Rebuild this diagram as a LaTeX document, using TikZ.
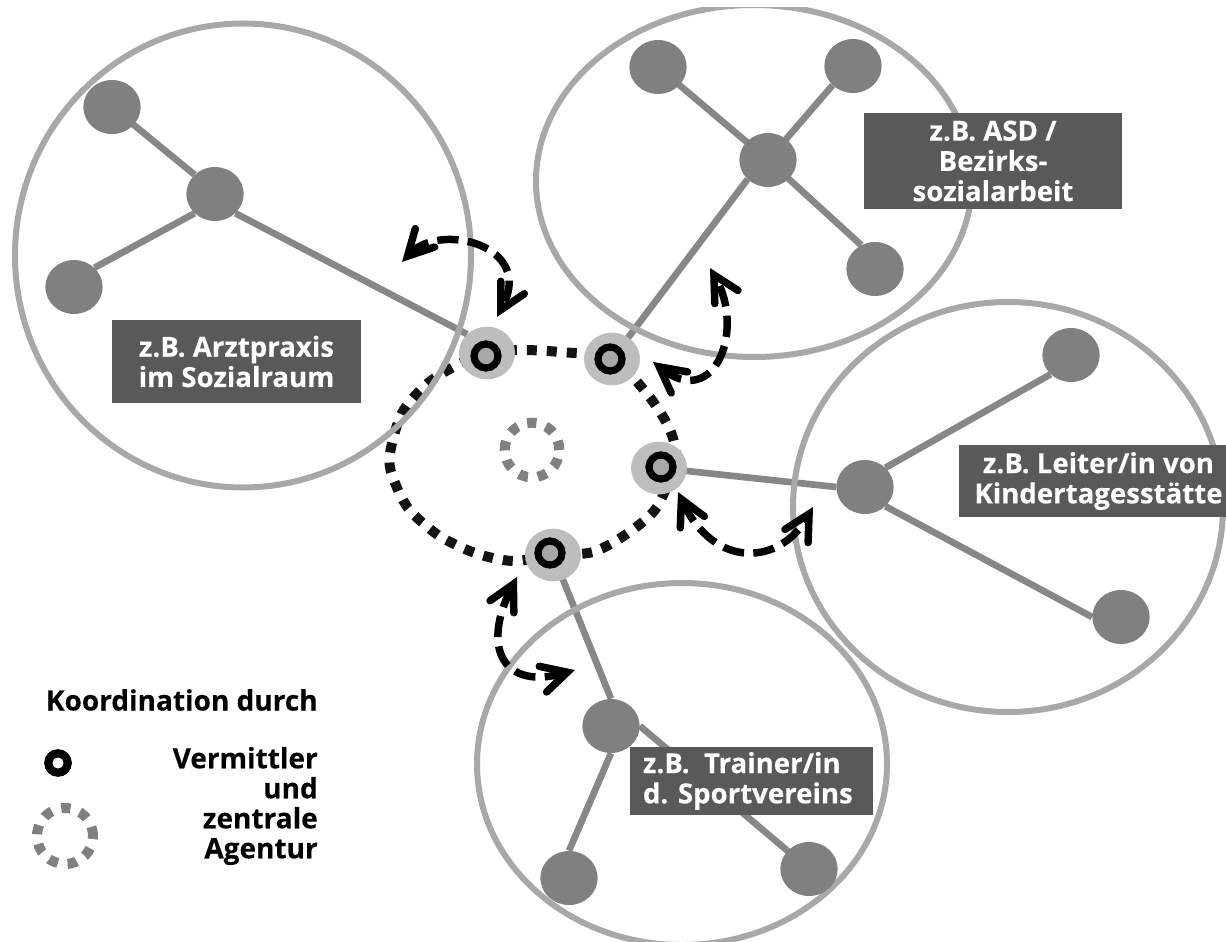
\documentclass[tikz,border=0pt]{standalone}
\usepackage{fontspec}
\setmainfont{Open Sans}[BoldFont={Open Sans Bold},BoldFeatures={FakeBold=0.25}]
\usetikzlibrary{shapes.geometric,arrows.meta,backgrounds}
\definecolor{bigc}{gray}{0.66}
\definecolor{spoke}{gray}{0.53}
\definecolor{hubc}{gray}{0.50}
\definecolor{discc}{gray}{0.74}
\definecolor{boxc}{gray}{0.35}
\tikzset{
  bigcircle/.style={draw=bigc,line width=4.5pt,ellipse,inner sep=0pt,fill=none},
  hub/.style={fill=hubc,ellipse,inner sep=0pt,minimum width=43pt,minimum height=40.5pt},
  spokeline/.style={draw=spoke,line width=5pt},
  disc/.style={fill=discc,ellipse,inner sep=0pt,minimum width=42pt,minimum height=39.5pt},
  ring/.style={circle,draw=black,fill=bigc,line width=5.4pt,inner sep=0pt,minimum size=18pt},
  legendring/.style={circle,draw=black,fill=white,line width=6.2pt,inner sep=0pt,minimum size=14.5pt},
  agency/.style={circle,draw=hubc,line width=7.5pt,inner sep=0pt,dash pattern=on 7pt off 7.4pt},
  label/.style={fill=boxc,text=white,font=\fontsize{20.7}{22.7}\selectfont\bfseries,align=center,inner sep=0pt},
  legendtext/.style={font=\fontsize{21}{22.5}\selectfont\bfseries,align=right,anchor=east,inner sep=0pt},
  loopline/.style={draw=black!92,line width=7.5pt,dash pattern=on 7.5pt off 7.5pt},
  link/.style={draw=black,line width=5.6pt,dash pattern=on 16pt off 7pt,
    {Straight Barb[line cap=round,line join=miter,length=19pt,width=20pt,line width=5.6pt]}-{Straight Barb[line cap=round,line join=miter,length=19pt,width=20pt,line width=5.6pt]}},
}
\begin{document}
\begin{tikzpicture}[x=0.75pt,y=-0.75pt]
\useasboundingbox (0,0) rectangle (1226,941);
\clip (12,8) rectangle (1226,941);
% large circles
\node[bigcircle,minimum width=342pt,minimum height=348pt] (cl) at (243,255.5) {};
\node[bigcircle,minimum width=327pt,minimum height=264pt] (ct) at (754,181) {};
\node[bigcircle,minimum width=322.5pt,minimum height=307.5pt] (cr) at (1008,507) {};
\node[bigcircle,minimum width=307.5pt,minimum height=271.5pt] (cb) at (682,764) {};
% hubs
\node[hub] (l1) at (112,107) {};
\node[hub] (l0) at (215,194) {};
\node[hub] (l2) at (74,287) {};
\node[hub] (t1) at (658,67) {};
\node[hub] (t2) at (853,66) {};
\node[hub] (t0) at (768,160) {};
\node[hub] (t3) at (875,269) {};
\node[hub] (r0) at (865,487) {};
\node[hub] (r1) at (1071,355) {};
\node[hub] (r2) at (1121,617) {};
\node[hub] (b0) at (611,726) {};
\node[hub] (b1) at (569,878) {};
\node[hub] (b2) at (809,869) {};
% brokers
\node[disc] (A) at (487,353) {};
\node[disc] (B) at (612,359) {};
\node[disc] (C) at (659,468) {};
\node[disc] (D) at (553,555) {};
\node[ring] at (486,356) {};
\node[ring] at (610,359) {};
\node[ring] at (661,467) {};
\node[ring] at (550,553) {};
\begin{scope}[on background layer]
\draw[spokeline] (l1.center) -- (l0.north west);
\draw[spokeline] (l2.north east) -- (l0.south west);
\draw[spokeline] (l0.south east) -- (A.north west);
\draw[spokeline] (t0.center) -- (t1.center);
\draw[spokeline] (t0.center) -- (t2.south west);
\draw[spokeline] (t0.center) -- (t3.120);
\draw[spokeline] (t0.south west) -- (B.center);
\draw[spokeline] (r0.north east) -- (r1.south west);
\draw[spokeline] (r0.south east) -- (r2.west);
\draw[spokeline] (r0.west) -- (C.center);
\draw[spokeline] (b0.north) -- (D.center);
\draw[spokeline] (b0.south) -- (b1.north);
\draw[spokeline] (b0.east) -- (b2.center);
\draw[loopline] plot[smooth cycle,tension=0.5] coordinates {
 (461,363) (A.center) (520,350) (560,352) (B.center) (648,395) (670,430) (675,460) (657,507) (628,533) (593,552)
 (D.center) (513,561) (475,553) (438,535) (408,508) (392,475) (390,453) (402,413) (428,383)};
\end{scope}
% central agency
\node[agency,minimum size=41pt] (ag) at (532,450) {};
% coordination arrows
\coordinate (a1s) at (402,262); \coordinate (a1e) at (497,317);
\coordinate (a2s) at (653,362); \coordinate (a2e) at (710,268);
\coordinate (a3s) at (678,492); \coordinate (a3e) at (813,507);
\coordinate (a4s) at (517,577); \coordinate (a4e) at (575,670);
\draw[link] (a1s) .. controls (440,222) and (535,245) .. (a1e);
\draw[link] (a2s) .. controls (715,410) and (745,330) .. (a2e);
\draw[link] (a3s) .. controls (715,570) and (780,565) .. (a3e);
\draw[link] (a4s) .. controls (480,650) and (505,690) .. (a4e);
% labels
\node[label,minimum width=186.75pt,minimum height=62.25pt] (la) at (236.5,361.5) {z.B. Arztpraxis\\im Sozialraum};
\node[label,minimum width=193.5pt,minimum height=72pt] (lb) at (993,161) {z.B. ASD /\\Bezirks-\\sozialarbeit};
\node[label,minimum width=209pt,minimum height=54pt] (lc) at (1098.5,481) {z.B. Leiter/in von\\Kindertagesstätte};
\node[label,minimum width=182.25pt,minimum height=51pt] (ld) at (751.5,781) {};
\node[label,anchor=west,align=left,fill=none] (ldt) at ([xshift=9.75pt]ld.west) {z.B.~~Trainer/in\\d. Sportvereins};
% legend
\node[legendtext] (k) at (318,700) {Koordination durch};
\node[legendtext] (v) at (318,806) {Vermittler\\und\\zentrale\\Agentur};
\node[legendring] (lr) at (58,763) {};
\node[agency,minimum size=42pt] (lg) at (65,836) {};
\end{tikzpicture}
\end{document}
